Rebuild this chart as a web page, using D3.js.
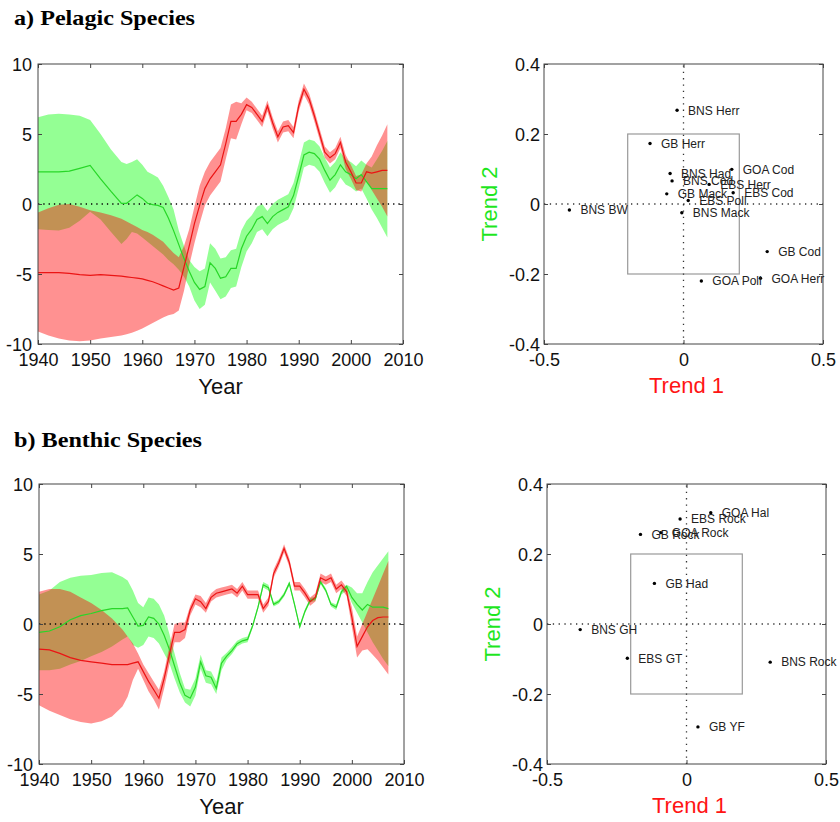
<!DOCTYPE html>
<html>
<head>
<meta charset="utf-8">
<script src="https://cdn.jsdelivr.net/npm/d3@7"></script>
<style>
  body { margin: 0; background: #fff; }
  svg { display: block; }
  .tick text { font-family: "Liberation Sans", Arial, sans-serif; fill: #111; }
  .tick line { stroke: #444; }
</style>
</head>
<body>
<svg id="fig" width="840" height="822"></svg>
<script>
// years shared by both trend panels (2-yr steps early, yearly after 1956)
var years = [1940, 1942, 1944, 1946, 1948, 1950, 1952, 1954, 1956,
  1957, 1958, 1959, 1960, 1961, 1962, 1963, 1964, 1965, 1966,
  1967, 1968, 1969, 1970, 1971, 1972, 1973, 1974, 1975, 1976,
  1977, 1978, 1979, 1980, 1981, 1982, 1983, 1984, 1985, 1986,
  1987, 1988, 1989, 1990, 1991, 1992, 1993, 1994, 1995, 1996,
  1997, 1998, 1999, 2000, 2001, 2002, 2003, 2004, 2005, 2006, 2007];

// a) pelagic: trend 1 (red) and trend 2 (green) with bands
var pelRed = [-4.9, -4.9, -4.9, -4.95, -5.05, -5.1, -5.05, -5.1, -5.15,
  -5.2, -5.25, -5.3, -5.35, -5.45, -5.55, -5.7, -5.85, -6.0, -6.15,
  -6.0, -4.5, -3.0, -1.4, -0.1, 1.1, 1.8, 2.3, 2.8, 4.3,
  5.9, 5.9, 6.4, 7.1, 6.9, 6.4, 5.9, 7.0, 5.8, 4.8,
  5.5, 5.6, 5.1, 7.0, 8.2, 7.5, 6.3, 5.0, 3.7, 3.3,
  3.6, 4.4, 3.0, 2.3, 1.5, 1.5, 2.3, 2.2, 2.3, 2.4, 2.4];
var pelRedHi = [-0.6, -0.3, -0.05, 0.0, -0.2, -0.45, -0.6, -0.8, -1.05,
  -1.25, -1.45, -1.65, -1.85, -2.0, -2.2, -2.45, -2.7, -3.1, -3.5,
  -3.8, -3.0, -1.8, -0.2, 1.3, 2.3, 3.0, 3.5, 4.0, 5.4,
  7.1, 7.3, 7.2, 7.6, 7.3, 6.8, 6.3, 7.4, 6.2, 5.2,
  5.9, 6.0, 5.5, 7.4, 8.6, 7.9, 6.7, 5.4, 4.1, 3.7,
  4.0, 4.8, 3.5, 2.8, 2.0, 2.1, 2.9, 3.4, 4.2, 4.9, 5.7];
var pelRedLo = [-9.1, -9.4, -9.6, -9.75, -9.8, -9.75, -9.6, -9.5, -9.4,
  -9.3, -9.2, -9.05, -8.9, -8.7, -8.5, -8.3, -8.1, -7.95, -7.85,
  -7.6, -6.2, -4.4, -2.8, -1.4, -0.1, 0.6, 1.1, 1.6, 3.2,
  4.7, 4.6, 5.7, 6.7, 6.5, 6.0, 5.5, 6.6, 5.4, 4.4,
  5.1, 5.2, 4.7, 6.6, 7.8, 7.1, 5.9, 4.6, 3.3, 2.9,
  3.2, 4.0, 2.5, 1.8, 1.0, 0.9, 1.7, 1.0, 0.4, -0.2, -0.9];
var pelGreen = [2.3, 2.3, 2.3, 2.35, 2.55, 2.75, 1.8, 0.9, 0.05,
  0.05, 0.35, 0.65, 0.4, 0.05, -0.05, -0.1, -0.25, -1.0, -1.9,
  -2.9, -3.9, -4.8, -5.6, -6.1, -5.9, -4.2, -4.6, -5.3, -5.2,
  -4.6, -4.6, -3.2, -2.3, -1.8, -1.1, -0.9, -1.4, -0.9, -0.6,
  -0.4, -0.2, 0.6, 2.0, 3.5, 3.7, 3.6, 3.2, 2.4, 1.7,
  2.1, 2.8, 2.3, 2.1, 1.8, 2.1, 1.6, 1.1, 1.1, 1.1, 1.1];
var pelGreenHi = [6.2, 6.4, 6.45, 6.4, 6.3, 6.0, 5.0, 3.9, 3.0,
  2.85, 3.0, 3.2, 2.8, 2.3, 2.1, 1.9, 1.3, 0.5, -0.4,
  -1.9, -3.0, -4.0, -4.5, -4.8, -4.6, -2.8, -3.2, -3.9, -3.8,
  -3.3, -3.2, -1.9, -1.2, -0.8, -0.2, 0.0, -0.5, 0.0, 0.3,
  0.5, 0.7, 1.5, 2.9, 4.4, 4.6, 4.5, 4.1, 3.3, 2.6,
  3.0, 3.7, 3.2, 3.0, 2.7, 3.1, 2.8, 2.6, 3.2, 3.8, 4.5];
var pelGreenLo = [-1.8, -1.85, -1.9, -1.7, -1.2, -0.55, -1.1, -2.0, -2.85,
  -2.5, -2.0, -2.1, -2.4, -2.7, -3.0, -3.3, -3.6, -4.0, -4.3,
  -4.7, -5.2, -5.9, -6.9, -7.5, -7.2, -5.6, -6.2, -6.8, -6.6,
  -6.0, -5.9, -4.5, -3.4, -2.8, -2.0, -1.8, -2.3, -1.8, -1.5,
  -1.3, -1.1, -0.3, 1.1, 2.6, 2.8, 2.7, 2.3, 1.5, 0.8,
  1.2, 1.9, 1.4, 1.2, 0.9, 1.1, 0.4, -0.4, -1.0, -1.7, -2.4];

// b) benthic
var benRed = [-1.8, -1.85, -2.1, -2.4, -2.6, -2.7, -2.8, -2.9, -2.9,
  -2.9, -2.8, -2.7, -3.4, -4.1, -4.7, -5.3, -3.9, -2.2, -0.6,
  -0.6, -0.4, 1.0, 1.8, 1.6, 1.1, 1.9, 2.2, 2.3, 2.4,
  2.5, 2.2, 2.7, 2.1, 2.1, 2.1, 1.1, 1.6, 3.6, 4.4,
  5.4, 4.4, 2.7, 2.7, 2.2, 1.6, 1.9, 3.3, 3.1, 3.3,
  2.5, 2.8, 2.3, 0.5, -1.6, -0.9, -0.2, 0.25, 0.45, 0.5, 0.5];
var benRedHi = [2.3, 2.5, 2.5, 2.3, 1.9, 1.5, 1.0, 0.4, -0.4,
  -0.9, -1.4, -2.1, -2.9, -3.5, -4.1, -4.7, -3.4, -1.6, 0.0,
  0.1, 0.1, 1.3, 2.1, 2.0, 1.5, 2.2, 2.5, 2.6, 2.7,
  2.8, 2.5, 3.0, 2.4, 2.4, 2.4, 1.4, 1.9, 3.9, 4.7,
  5.7, 4.7, 3.0, 3.0, 2.5, 1.9, 2.2, 3.6, 3.4, 3.6,
  2.8, 3.1, 2.6, 1.2, -0.9, 0.0, 0.9, 1.8, 2.7, 3.6, 4.5];
var benRedLo = [-5.8, -6.2, -6.5, -6.8, -7.0, -7.1, -6.95, -6.6, -5.9,
  -5.2, -4.0, -3.2, -4.0, -4.8, -5.4, -6.1, -4.6, -2.9, -1.3,
  -1.3, -1.0, 0.6, 1.4, 1.2, 0.8, 1.6, 1.9, 2.0, 2.1,
  2.2, 1.9, 2.4, 1.8, 1.8, 1.8, 0.8, 1.3, 3.3, 4.1,
  5.1, 4.1, 2.4, 2.4, 1.9, 1.3, 1.6, 3.0, 2.8, 3.0,
  2.2, 2.5, 2.0, -0.2, -2.4, -1.9, -1.8, -2.2, -2.6, -3.1, -3.6];
var benGreen = [-0.6, -0.5, -0.2, 0.3, 0.6, 0.75, 0.95, 1.1, 1.1,
  1.15, 0.5, -0.15, -0.1, 0.5, 0.4, 0.0, -0.8, -1.8, -3.0,
  -4.2, -5.1, -5.3, -4.5, -2.7, -3.7, -3.8, -4.6, -2.8, -2.3,
  -1.9, -1.4, -1.2, -1.1, -0.1, 1.2, 2.8, 2.6, 1.4, 1.6,
  2.1, 2.9, 1.4, -0.2, 0.9, 1.7, 1.8, 3.0, 2.4, 1.4,
  1.2, 2.3, 2.7, 1.9, 1.4, 1.0, 1.4, 1.2, 1.2, 1.2, 1.1];
var benGreenHi = [2.1, 2.4, 3.0, 3.3, 3.45, 3.5, 3.65, 3.7, 3.35,
  3.1, 2.4, 1.5, 1.2, 1.9, 1.8, 1.4, 0.6, -0.7, -2.1,
  -3.5, -4.6, -4.7, -3.9, -2.2, -3.3, -3.4, -4.1, -2.4, -2.05,
  -1.65, -1.2, -1.0, -0.9, 0.05, 1.35, 3.0, 2.8, 1.55, 1.75,
  2.25, 3.05, 1.55, -0.05, 1.05, 1.85, 1.95, 3.15, 2.55, 1.55,
  1.4, 2.5, 2.8, 2.6, 2.2, 2.2, 3.0, 3.7, 4.2, 4.7, 5.2];
var benGreenLo = [-3.3, -3.3, -3.2, -2.9, -2.65, -2.3, -2.0, -1.6, -1.1,
  -0.9, -1.5, -1.7, -1.5, -0.9, -1.0, -1.4, -2.1, -2.8, -3.9,
  -4.9, -5.6, -5.9, -5.1, -3.2, -4.2, -4.3, -5.0, -3.3, -2.55,
  -2.15, -1.6, -1.4, -1.3, -0.25, 1.05, 2.6, 2.4, 1.25, 1.45,
  1.95, 2.75, 1.25, -0.35, 0.75, 1.55, 1.65, 2.85, 2.25, 1.25,
  1.0, 2.1, 2.4, 1.5, 0.8, 0.1, -0.6, -1.3, -1.9, -2.5, -3.0];

// loadings
var pelNames = ["BNS Herr", "GB Herr", "BNS Had", "BNS Cod", "GOA Cod", "EBS Herr", "EBS Cod",
  "GB Mack", "EBS Poll", "BNS Mack", "BNS BW", "GB Cod", "GOA Herr", "GOA Poll"];
var pelT1 = [-0.023, -0.12, -0.048, -0.041, 0.173, 0.092, 0.178, -0.06, 0.017, -0.006, -0.409, 0.30, 0.276, 0.064];
var pelT2 = [0.268, 0.173, 0.087, 0.066, 0.099, 0.056, 0.032, 0.029, 0.01, -0.025, -0.017, -0.136, -0.212, -0.22];

var benNames = ["GOA Hal", "EBS Rock", "GB Rock", "GOA Rock", "GB Had", "BNS GH", "EBS GT", "BNS Rock", "GB YF"];
var benT1 = [0.087, -0.023, -0.165, -0.092, -0.115, -0.381, -0.212, 0.30, 0.041];
var benT2 = [0.318, 0.300, 0.256, 0.261, 0.116, -0.016, -0.098, -0.109, -0.294];

var yearTicks = [1940, 1950, 1960, 1970, 1980, 1990, 2000, 2010];
var trendTicks = [-10, -5, 0, 5, 10];
var loadXTicks = [-0.5, 0, 0.5];
var loadYTicks = [-0.4, -0.2, 0, 0.2, 0.4];

var svg = d3.select("#fig");
var tickFont = 18;

// titles
svg.append("text").attr("x", 14).attr("y", 25)
  .attr("font-family", "'Liberation Serif', 'Times New Roman', serif")
  .attr("font-weight", "bold").attr("font-size", 21)
  .attr("textLength", 181).attr("lengthAdjust", "spacingAndGlyphs")
  .text("a) Pelagic Species");
svg.append("text").attr("x", 14).attr("y", 447)
  .attr("font-family", "'Liberation Serif', 'Times New Roman', serif")
  .attr("font-weight", "bold").attr("font-size", 21)
  .attr("textLength", 188).attr("lengthAdjust", "spacingAndGlyphs")
  .text("b) Benthic Species");

function frame(g, x, y, xt, yt, fmt, pad) {
  var b = x.range(), l = y.range();
  g.append("g").attr("transform", "translate(0," + l[0] + ")")
    .call(d3.axisBottom(x).tickValues(xt).tickSize(-4).tickPadding(9).tickFormat(fmt))
    .call(function (a) { a.select(".domain").remove(); a.selectAll("text").attr("font-size", tickFont); });
  g.append("g").attr("transform", "translate(" + b[0] + ",0)")
    .call(d3.axisLeft(y).tickValues(yt).tickSize(-4).tickPadding(pad).tickFormat(fmt))
    .call(function (a) { a.select(".domain").remove(); a.selectAll("text").attr("font-size", tickFont).attr("dy", "0.36em"); });
  g.append("g").attr("transform", "translate(0," + l[1] + ")")
    .call(d3.axisTop(x).tickValues(xt).tickSize(-4).tickFormat(""))
    .call(function (a) { a.select(".domain").remove(); });
  g.append("g").attr("transform", "translate(" + b[1] + ",0)")
    .call(d3.axisRight(y).tickValues(yt).tickSize(-4).tickFormat(""))
    .call(function (a) { a.select(".domain").remove(); });
  g.append("rect")
    .attr("x", b[0]).attr("y", l[1])
    .attr("width", b[1] - b[0]).attr("height", l[0] - l[1])
    .attr("fill", "none").attr("stroke", "#444").attr("stroke-width", 1);
}

function trendPanel(box, red, redHi, redLo, green, greenHi, greenLo) {
  var g = svg.append("g");
  var x = d3.scaleLinear().domain([1940, 2010]).range([box.l, box.r]);
  var y = d3.scaleLinear().domain([-10, 10]).range([box.b, box.t]);

  var band = function (hi, lo) {
    return d3.area().x(function (d, i) { return x(years[i]); })
      .y0(function (d, i) { return y(lo[i]); })
      .y1(function (d, i) { return y(hi[i]); });
  };
  var line = d3.line().x(function (d, i) { return x(years[i]); }).y(function (d) { return y(d); });

  g.append("path").datum(years).attr("d", band(greenHi, greenLo))
    .attr("fill", "rgb(0,255,0)").attr("fill-opacity", 0.42);
  g.append("path").datum(years).attr("d", band(redHi, redLo))
    .attr("fill", "rgb(255,0,0)").attr("fill-opacity", 0.43);

  g.append("line").attr("x1", x(1940)).attr("x2", x(2010)).attr("y1", y(0)).attr("y2", y(0))
    .attr("stroke", "#000").attr("stroke-width", 1.3).attr("stroke-dasharray", "1.3,4");

  g.append("path").datum(green).attr("d", line)
    .attr("fill", "none").attr("stroke", "rgb(40,215,40)").attr("stroke-width", 1.2);
  g.append("path").datum(red).attr("d", line)
    .attr("fill", "none").attr("stroke", "rgb(235,20,20)").attr("stroke-width", 1.2);

  frame(g, x, y, yearTicks, trendTicks, function (d) { return String(d); }, 6);

  g.append("text").attr("x", (box.l + box.r) / 2).attr("y", box.b + 50)
    .attr("text-anchor", "middle").attr("font-size", 22)
    .attr("font-family", "'Liberation Sans', Arial, sans-serif").attr("fill", "#111")
    .text("Year");
}

function loadPanel(box, names, t1, t2) {
  var g = svg.append("g");
  var x = d3.scaleLinear().domain([-0.5, 0.5]).range([box.l, box.r]);
  var y = d3.scaleLinear().domain([-0.4, 0.4]).range([box.b, box.t]);

  g.append("rect").attr("x", x(-0.2)).attr("y", y(0.2))
    .attr("width", x(0.2) - x(-0.2)).attr("height", y(-0.2) - y(0.2))
    .attr("fill", "none").attr("stroke", "#999").attr("stroke-width", 1.2);

  g.append("line").attr("x1", x(-0.5)).attr("x2", x(0.5)).attr("y1", y(0)).attr("y2", y(0))
    .attr("stroke", "#333").attr("stroke-width", 1.3).attr("stroke-dasharray", "1.3,4.5");
  g.append("line").attr("x1", x(0)).attr("x2", x(0)).attr("y1", y(-0.4)).attr("y2", y(0.4))
    .attr("stroke", "#333").attr("stroke-width", 1.3).attr("stroke-dasharray", "1.3,5");

  frame(g, x, y, loadXTicks, loadYTicks, function (d) { return String(d); }, 4);

  g.selectAll("circle.pt").data(names).enter().append("circle")
    .attr("class", "pt")
    .attr("cx", function (d, i) { return x(t1[i]); })
    .attr("cy", function (d, i) { return y(t2[i]); })
    .attr("r", 1.7).attr("fill", "#000");

  g.selectAll("text.lab").data(names).enter().append("text")
    .attr("class", "lab")
    .attr("x", function (d, i) { return x(t1[i]) + 11; })
    .attr("y", function (d, i) { return y(t2[i]); })
    .attr("dy", "0.36em")
    .attr("font-size", 12).attr("fill", "#222")
    .attr("font-family", "'Liberation Sans', Arial, sans-serif")
    .text(function (d) { return d; });

  g.append("text").attr("x", (box.l + box.r) / 2 + 3).attr("y", box.b + 49)
    .attr("text-anchor", "middle").attr("font-size", 22)
    .attr("font-family", "'Liberation Sans', Arial, sans-serif").attr("fill", "rgb(255,20,20)")
    .text("Trend 1");
  g.append("text")
    .attr("transform", "translate(" + (box.l - 47) + "," + ((box.t + box.b) / 2) + ") rotate(-90)")
    .attr("text-anchor", "middle").attr("font-size", 22)
    .attr("font-family", "'Liberation Sans', Arial, sans-serif").attr("fill", "rgb(30,230,30)")
    .text("Trend 2");
}

trendPanel({ l: 38, r: 403, t: 64, b: 344 }, pelRed, pelRedHi, pelRedLo, pelGreen, pelGreenHi, pelGreenLo);
loadPanel({ l: 544, r: 823, t: 64, b: 344 }, pelNames, pelT1, pelT2);
trendPanel({ l: 39, r: 404, t: 484, b: 764 }, benRed, benRedHi, benRedLo, benGreen, benGreenHi, benGreenLo);
loadPanel({ l: 547, r: 826, t: 484, b: 764 }, benNames, benT1, benT2);
</script>
</body>
</html>
